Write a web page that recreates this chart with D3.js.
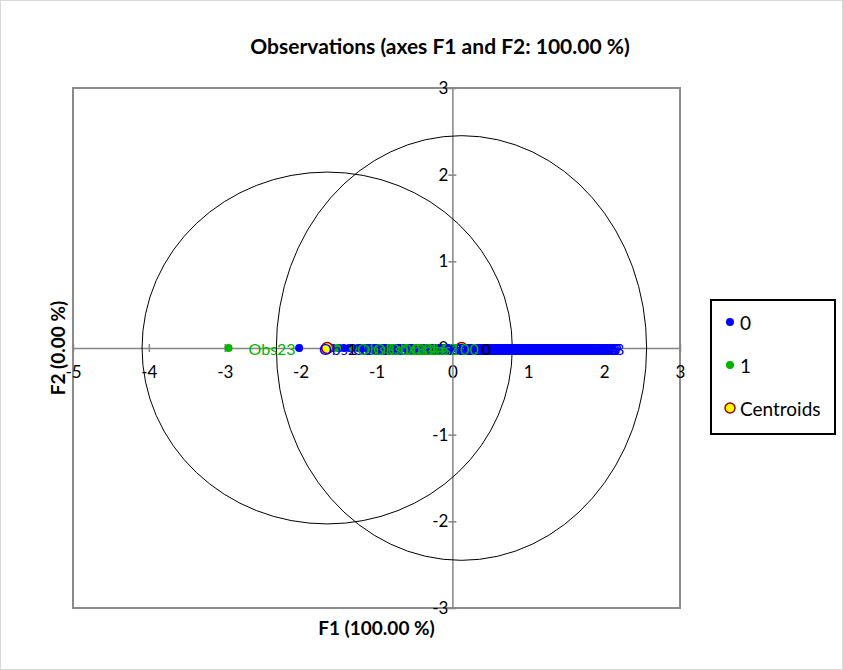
<!DOCTYPE html>
<html>
<head>
<meta charset="utf-8">
<script src="https://cdn.jsdelivr.net/npm/d3@7"></script>
<style>
  html, body { margin: 0; padding: 0; background: #fff; }
  svg { display: block; font-family: Lato, "Open Sans", sans-serif; }
</style>
</head>
<body>
<svg id="chart" width="843" height="670"></svg>
<script>
// Class 0 observations (F1 scores; F2 is 0 for every observation)
const class0Names = ["Obs2","Obs1","Obs4","Obs5","Obs6","Obs7","Obs8","Obs9","Obs11","Obs12",
  "Obs13","Obs14","Obs15","Obs16","Obs18","Obs19","Obs20","Obs21","Obs22","Obs24",
  "Obs25","Obs26","Obs27","Obs28","Obs29","Obs30","Obs32","Obs33","Obs34","Obs35",
  "Obs36","Obs37","Obs39","Obs40","Obs41","Obs42","Obs43","Obs45","Obs46","Obs47",
  "Obs49","Obs50","Obs51","Obs53","Obs54","Obs55","Obs57","Obs58","Obs59","Obs61",
  "Obs62","Obs63","Obs64","Obs65","Obs66","Obs68","Obs69","Obs70","Obs71","Obs72",
  "Obs74","Obs75","Obs76","Obs77","Obs78","Obs79","Obs80","Obs82","Obs83","Obs84",
  "Obs85","Obs86","Obs87","Obs89","Obs56","Obs48"];
const class0F1 = [-2.02,-1.58,-1.49,-1.43,-1.36,-1.31,-1.24,-1.19,-1.13,-1.07,
  -1.02,-0.97,-0.9,-0.86,-0.8,-0.74,-0.69,-0.63,-0.57,-0.52,
  -0.46,-0.4,-0.35,-0.29,-0.24,-0.18,-0.13,-0.08,-0.02,0.03,
  0.07,0.12,0.17,0.21,0.26,0.3,0.34,0.38,0.42,0.45,
  0.49,0.53,0.56,0.6,0.63,0.66,0.7,0.73,0.76,0.79,
  0.82,0.85,0.88,0.91,0.93,0.96,0.99,1.02,1.04,1.07,
  1.1,1.12,1.15,1.17,1.2,1.22,1.24,1.26,1.28,1.3,
  1.31,1.33,1.34,1.35,1.32,1.38];

// Class 1 observations
const class1Names = ["Obs23","Obs3","Obs10","Obs31","Obs44","Obs67","Obs100"];
const class1F1 = [-2.95,-1.52,-1.31,-1.12,-0.96,-0.81,-0.66];

// Class centroids and their circles (radii in axis units)
const centroidNames = ["0","1"];
const centroidF1 = [0.12, -1.65];
const centroidF2 = [0, 0];
const circleRx = [2.44, 2.44];
const circleRy = [2.45, 2.03];

// Axes
const xTicks = [-5,-4,-3,-2,-1,0,1,2,3];
const yTicks = [-3,-2,-1,0,1,2,3];

const colors = { c0: "#0000ff", c1: "#00b400", cent: "#ffff00", centStroke: "#a00000" };

const svg = d3.select("#chart");
const W = 843, H = 670;
const plot = { left: 73, right: 680, top: 88, bottom: 608 };

const x = d3.scaleLinear().domain([-5, 3]).range([plot.left, plot.right]);
const y = d3.scaleLinear().domain([-3, 3]).range([plot.bottom, plot.top]);

// Chart frame
svg.append("rect").attr("x", 0.5).attr("y", 0.5).attr("width", W - 1).attr("height", H - 1)
  .attr("fill", "#fff").attr("stroke", "#d9d9d9");

// Title
svg.append("text").attr("x", 440).attr("y", 54).attr("text-anchor", "middle")
  .attr("font-weight", "bold").attr("font-size", 21)
  .text("Observations (axes F1 and F2: 100.00 %)");

// Plot area border
svg.append("rect").attr("x", plot.left).attr("y", plot.top)
  .attr("width", plot.right - plot.left).attr("height", plot.bottom - plot.top)
  .attr("fill", "none").attr("stroke", "#8c8c8c").attr("stroke-width", 2);

// Axes crossing at zero
const fmt = d => String(d);
const xAxis = d3.axisBottom(x).tickValues(xTicks).tickSize(0).tickFormat(fmt);
const gx = svg.append("g").attr("transform", `translate(0,${y(0)})`).call(xAxis);
gx.select(".domain").attr("stroke", "#868686").attr("stroke-width", 1.5);
gx.selectAll(".tick text").attr("font-size", 17).attr("fill", "#000")
  .attr("font-family", "Lato, sans-serif").attr("dy", "0.35em").attr("y", 24);
gx.selectAll(".tick").append("line").attr("y1", -4).attr("y2", 4)
  .attr("stroke", "#868686").attr("stroke-width", 1.5);

const yAxis = d3.axisLeft(y).tickValues(yTicks).tickSize(0).tickPadding(4).tickFormat(fmt);
const gy = svg.append("g").attr("transform", `translate(${x(0)},0)`).call(yAxis);
gy.select(".domain").attr("stroke", "#868686").attr("stroke-width", 1.5);
gy.selectAll(".tick text").attr("font-size", 17).attr("fill", "#000")
  .attr("font-family", "Lato, sans-serif");
gy.selectAll(".tick").append("line").attr("x1", -4).attr("x2", 4)
  .attr("stroke", "#868686").attr("stroke-width", 1.5);

// Axis titles
svg.append("text").attr("x", (plot.left + plot.right) / 2).attr("y", 635)
  .attr("text-anchor", "middle").attr("font-weight", "bold").attr("font-size", 19)
  .text("F1 (100.00 %)");
svg.append("text").attr("transform", `translate(65,${(plot.top + plot.bottom) / 2}) rotate(-90)`)
  .attr("text-anchor", "middle").attr("font-weight", "bold").attr("font-size", 19)
  .text("F2 (0.00 %)");

// Centroid circles
const ellipses = centroidF1.map((c, i) => ({ cx: c, cy: centroidF2[i], rx: circleRx[i], ry: circleRy[i] }));
svg.append("g").selectAll("ellipse").data(ellipses).join("ellipse")
  .attr("cx", d => x(d.cx)).attr("cy", d => y(d.cy))
  .attr("rx", d => x(d.rx) - x(0)).attr("ry", d => y(0) - y(d.ry))
  .attr("fill", "none").attr("stroke", "#000").attr("stroke-width", 1);

const obs0 = class0F1.map((v, i) => ({ f1: v, f2: 0, name: class0Names[i] }));
const obs1 = class1F1.map((v, i) => ({ f1: v, f2: 0, name: class1Names[i] }));
const cents = centroidF1.map((v, i) => ({ f1: v, f2: centroidF2[i], name: centroidNames[i] }));

// Markers
const marks = svg.append("g");
marks.selectAll("circle.c0").data(obs0).join("circle").attr("class", "c0")
  .attr("cx", d => x(d.f1)).attr("cy", d => y(d.f2)).attr("r", 4).attr("fill", colors.c0);
marks.selectAll("circle.c1").data(obs1).join("circle").attr("class", "c1")
  .attr("cx", d => x(d.f1)).attr("cy", d => y(d.f2)).attr("r", 4).attr("fill", colors.c1);
marks.selectAll("circle.cent").data(cents).join("circle").attr("class", "cent")
  .attr("cx", d => x(d.f1)).attr("cy", d => y(d.f2)).attr("r", 5.5)
  .attr("fill", colors.cent).attr("stroke", colors.centStroke).attr("stroke-width", 1.5);

// Point labels
const labels = svg.append("g").attr("font-size", 16).attr("dominant-baseline", "central");
labels.selectAll("text.l0").data(obs0).join("text").attr("class", "l0")
  .attr("x", d => x(d.f1) + 20).attr("y", d => y(d.f2)).attr("fill", colors.c0).text(d => d.name);
labels.selectAll("text.l1").data(obs1).join("text").attr("class", "l1")
  .attr("x", d => x(d.f1) + 20).attr("y", d => y(d.f2)).attr("fill", colors.c1).text(d => d.name);
labels.selectAll("text.lc").data(cents).join("text").attr("class", "lc")
  .attr("x", d => x(d.f1) + 20).attr("y", d => y(d.f2)).attr("fill", "#000").text(d => d.name);

// Legend
const lg = svg.append("g").attr("transform", "translate(711,300)");
lg.append("rect").attr("width", 124).attr("height", 134).attr("fill", "#fff")
  .attr("stroke", "#000").attr("stroke-width", 2);
const legendItems = [
  { label: "0", fill: colors.c0, stroke: "none", r: 4 },
  { label: "1", fill: colors.c1, stroke: "none", r: 4 },
  { label: "Centroids", fill: colors.cent, stroke: colors.centStroke, r: 5 }
];
const li = lg.selectAll("g.item").data(legendItems).join("g").attr("class", "item")
  .attr("transform", (d, i) => `translate(0,${22 + i * 43})`);
li.append("circle").attr("cx", 19).attr("cy", 0).attr("r", d => d.r)
  .attr("fill", d => d.fill).attr("stroke", d => d.stroke).attr("stroke-width", 1.5);
li.append("text").attr("x", 29).attr("y", 0).attr("dominant-baseline", "central")
  .attr("font-size", 19).text(d => d.label);
</script>
</body>
</html>
